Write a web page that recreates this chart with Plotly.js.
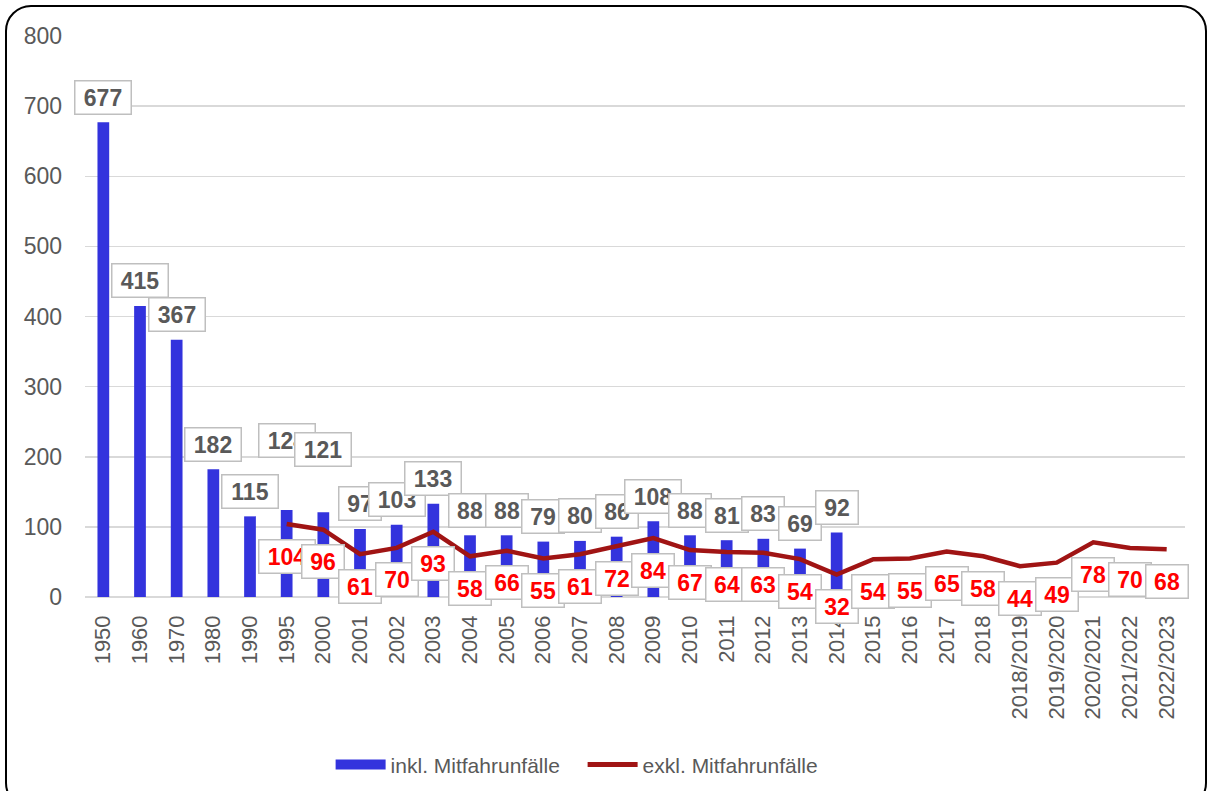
<!DOCTYPE html>
<html><head><meta charset="utf-8">
<script src="https://cdn.plot.ly/plotly-3.0.1.min.js"></script>
<style>
html,body{margin:0;padding:0;background:#fff;}
#wrap{position:relative;width:1210px;height:791px;overflow:hidden;}
#chart{position:absolute;left:0;top:0;width:1210px;height:791px;}
#frame{position:absolute;left:5px;top:5px;width:1198px;height:800px;border:2px solid #000;border-radius:26px;pointer-events:none;}
</style></head>
<body>
<div id="wrap"><div id="chart"></div><div id="frame"></div></div>
<script>
const categories = ["1950","1960","1970","1980","1990","1995","2000","2001","2002","2003","2004","2005","2006","2007","2008","2009","2010","2011","2012","2013","2014","2015","2016","2017","2018","2018/2019","2019/2020","2020/2021","2021/2022","2022/2023"];
const barCategories = ["1950","1960","1970","1980","1990","1995","2000","2001","2002","2003","2004","2005","2006","2007","2008","2009","2010","2011","2012","2013","2014"];
const inklValues = [677,415,367,182,115,124,121,97,103,133,88,88,79,80,86,108,88,81,83,69,92];
const lineCategories = ["1995","2000","2001","2002","2003","2004","2005","2006","2007","2008","2009","2010","2011","2012","2013","2014","2015","2016","2017","2018","2018/2019","2019/2020","2020/2021","2021/2022","2022/2023"];
const exklValues = [104,96,61,70,93,58,66,55,61,72,84,67,64,63,54,32,54,55,65,58,44,49,78,70,68];
const yTicks = [0,100,200,300,400,500,600,700,800];

// label placement tweaks (presentation only)
const barLabelExtraLift = {"1995": 45, "2000": 38};
const FONT = 'Liberation Sans, Arial, sans-serif';

function boxWidth(v){ return String(v).length >= 3 ? 55 : 41; }

const annotations = [];
barCategories.forEach((c,i)=>{
  annotations.push({
    x:categories.indexOf(c), y:inklValues[i], xref:'x', yref:'y',
    text:'<b>'+inklValues[i]+'</b>', showarrow:false,
    yshift:25+(barLabelExtraLift[c]||0), yanchor:'middle', xanchor:'center',
    width:boxWidth(inklValues[i]), height:32, valign:'middle',
    font:{family:FONT, size:23, color:'#595959'},
    bgcolor:'#ffffff', bordercolor:'#BFBFBF', borderwidth:1.5, borderpad:0
  });
});
lineCategories.forEach((c,i)=>{
  annotations.push({
    x:categories.indexOf(c), y:exklValues[i], xref:'x', yref:'y',
    text:'<b>'+exklValues[i]+'</b>', showarrow:false,
    yshift:-32, yanchor:'middle', xanchor:'center',
    width:boxWidth(exklValues[i]), height:32, valign:'middle',
    font:{family:FONT, size:23, color:'#FF0000'},
    bgcolor:'#ffffff', bordercolor:'#BFBFBF', borderwidth:1.5, borderpad:0
  });
});

const traces = [
  {type:'bar', name:'inkl. Mitfahrunfälle', x:barCategories, y:inklValues,
   marker:{color:'#3333DD'}, width:0.32, showlegend:false},
  {type:'scatter', mode:'lines', name:'exkl. Mitfahrunfälle', x:lineCategories, y:exklValues,
   line:{color:'#A01414', width:4.5}, showlegend:false},
  // legend-only entries (no data drawn)
  {type:'scatter', mode:'lines', name:'inkl. Mitfahrunfälle', x:[null], y:[null],
   line:{color:'#3333DD', width:13}, showlegend:true},
  {type:'scatter', mode:'lines', name:'exkl. Mitfahrunfälle', x:[null], y:[null],
   line:{color:'#A01414', width:5}, showlegend:true}
];

const layout = {
  width:1210, height:791,
  margin:{l:85, r:25, t:36, b:194, autoexpand:false},
  paper_bgcolor:'#ffffff', plot_bgcolor:'#ffffff',
  font:{family:FONT, color:'#595959'},
  showlegend:true,
  legend:{orientation:'h', xref:'container', yref:'container', x:0.4815, xanchor:'center', y:0.033, yanchor:'middle',
          font:{size:21, color:'#595959'}, traceorder:'normal', itemwidth:50, entrywidth:187},
  xaxis:{type:'category', categoryorder:'array', categoryarray:categories,
         range:[-0.5, categories.length-0.5], automargin:false,
         tickangle:-90, tickfont:{size:22, color:'#595959'},
         showgrid:false, showline:false, ticks:'', ticklabelstandoff:13},
  yaxis:{range:[0,800], tickvals:yTicks, tickfont:{size:23, color:'#595959'}, automargin:false,
         gridcolor:'#D9D9D9', gridwidth:1.5, zeroline:true, zerolinecolor:'#D9D9D9', zerolinewidth:1.5,
         showline:false, ticks:'', ticklabelstandoff:22},
  annotations:annotations,
  bargap:0.6
};

Plotly.newPlot('chart', traces, layout, {displayModeBar:false, staticPlot:true});
</script>
</body></html>
